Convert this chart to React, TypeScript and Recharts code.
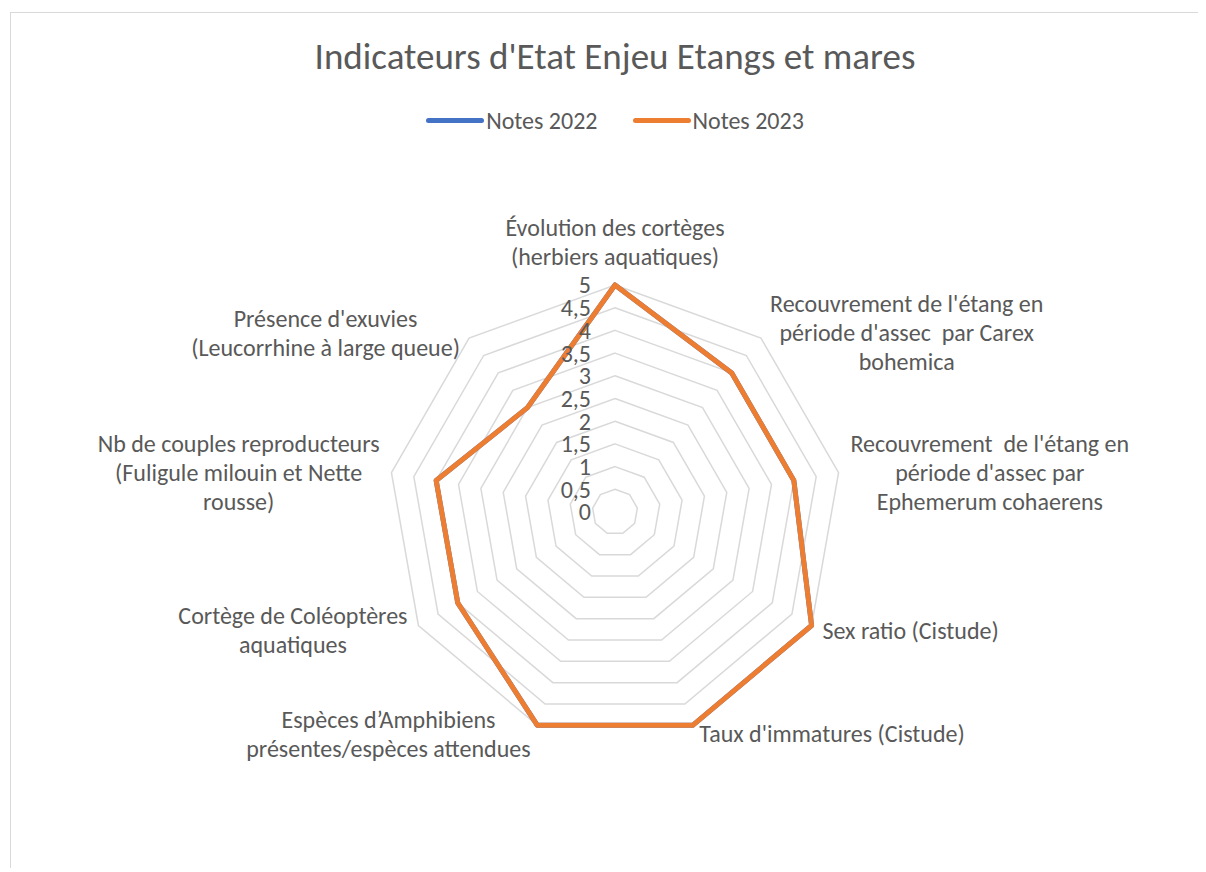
import { PolarAngleAxis, PolarGrid, PolarRadiusAxis, Radar, RadarChart } from 'recharts';

const LABEL_LINES = [
  ['Évolution des cortèges', '(herbiers aquatiques)'],
  ["Recouvrement de l'étang en", "période d'assec  par Carex", 'bohemica'],
  ["Recouvrement  de l'étang en", "période d'assec par", 'Ephemerum cohaerens'],
  ['Sex ratio (Cistude)'],
  ["Taux d'immatures (Cistude)"],
  ['Espèces d’Amphibiens', 'présentes/espèces attendues'],
  ['Cortège de Coléoptères', 'aquatiques'],
  ['Nb de couples reproducteurs', '(Fuligule milouin et Nette', 'rousse)'],
  ["Présence d'exuvies", '(Leucorrhine à large queue)']
];
const CATEGORIES = LABEL_LINES.map((lines) => lines.join(' '));
const NOTES_2022 = [5, 4, 4, 5, 5, 5, 4, 4, 3];
const NOTES_2023 = [5, 4, 4, 5, 5, 5, 4, 4, 3];
const SERIES = [
  { key: 'n2022', name: 'Notes 2022', color: '#4472C4' },
  { key: 'n2023', name: 'Notes 2023', color: '#ED7D31' }
];

const data = CATEGORIES.map((name, i) => ({ name, n2022: NOTES_2022[i], n2023: NOTES_2023[i] }));

const FONT = 'Carlito, Lato, sans-serif';
const LABEL_SIZE = 24;
const LINE_H = 29;
const TEXT = '#595959';
const CX = 607;
const CY = 504;
const R = 227;

let ctx: CanvasRenderingContext2D | null = null;
function textWidth(s: string) {
  if (!ctx) ctx = document.createElement('canvas').getContext('2d');
  if (!ctx) return s.length * 11;
  ctx.font = `${LABEL_SIZE}px ${FONT}`;
  return ctx.measureText(s).width;
}

// multi-line category label, centred in a box that sits beside the axis end
function AngleTick(props: any) {
  const { x, y, payload } = props;
  const idx = CATEGORIES.indexOf(payload.value);
  const lines = LABEL_LINES[idx] || [String(payload.value)];
  const w = Math.max(...lines.map(textWidth));
  const off = x - CX;
  let tx = x;
  if (off > 1) tx = x + 4 + w / 2;
  else if (off < -1) tx = x - 4 - w / 2;
  const n = lines.length;
  const firstY = Math.abs(off) < 1 && y < CY ? y - 20 - (n - 1) * LINE_H : y + 1 - ((n - 1) * LINE_H) / 2;
  return (
    <text textAnchor="middle" fill={TEXT} fontSize={LABEL_SIZE} fontFamily={FONT} style={{ whiteSpace: 'pre' }}>
      {lines.map((line, i) => (
        <tspan key={i} x={tx} y={firstY + i * LINE_H} dy="0.35em">
          {line}
        </tspan>
      ))}
    </text>
  );
}

function RadiusTick(props: any) {
  const { x, y, payload } = props;
  return (
    <text x={x - 24} y={y} dy="0.35em" textAnchor="end" fill={TEXT} fontSize={LABEL_SIZE} fontFamily={FONT}>
      {String(payload.value).replace('.', ',')}
    </text>
  );
}

export default function App() {
  return (
    <div style={{ position: 'relative', width: 1198, height: 860, overflow: 'hidden', background: '#fff', fontFamily: FONT }}>
      <div
        style={{
          position: 'absolute',
          left: 2,
          top: 4,
          width: 1400,
          height: 1000,
          borderLeft: '1.5px solid #D9D9D9',
          borderTop: '1.5px solid #D9D9D9'
        }}
      />
      <div
        style={{
          position: 'absolute',
          left: 0,
          top: 28.5,
          width: 1214,
          height: 40,
          lineHeight: '40px',
          textAlign: 'center',
          fontSize: 37,
          color: TEXT
        }}
      >
        Indicateurs d'Etat Enjeu Etangs et mares
      </div>
      <div
        style={{
          position: 'absolute',
          left: 0,
          top: 97,
          width: 1214,
          height: 30,
          display: 'flex',
          justifyContent: 'center',
          alignItems: 'center',
          gap: 35,
          fontSize: LABEL_SIZE,
          color: TEXT
        }}
      >
        {SERIES.map((s) => (
          <div key={s.key} style={{ display: 'flex', alignItems: 'center', gap: 2 }}>
            <span style={{ display: 'inline-block', width: 58, height: 5, borderRadius: 3, background: s.color }} />
            <span>{s.name}</span>
          </div>
        ))}
      </div>
      <div style={{ position: 'absolute', left: 0, top: 0 }}>
        <RadarChart width={1198} height={860} data={data} cx={CX} cy={CY} outerRadius={R}>
          <PolarGrid gridType="polygon" radialLines={false} stroke="#D9D9D9" strokeWidth={1.5} />
          <PolarAngleAxis dataKey="name" axisLine={false} tickLine={false} tick={AngleTick} />
          <PolarRadiusAxis
            angle={90}
            type="number"
            domain={[0, 5]}
            tickCount={11}
            allowDecimals
            axisLine={false}
            tickLine={false}
            tick={RadiusTick}
          />
          {SERIES.map((s) => (
            <Radar
              key={s.key}
              name={s.name}
              dataKey={s.key}
              stroke={s.color}
              strokeWidth={5}
              strokeLinejoin="round"
              fill="none"
              fillOpacity={0}
              dot={false}
              isAnimationActive={false}
            />
          ))}
        </RadarChart>
      </div>
    </div>
  );
}
